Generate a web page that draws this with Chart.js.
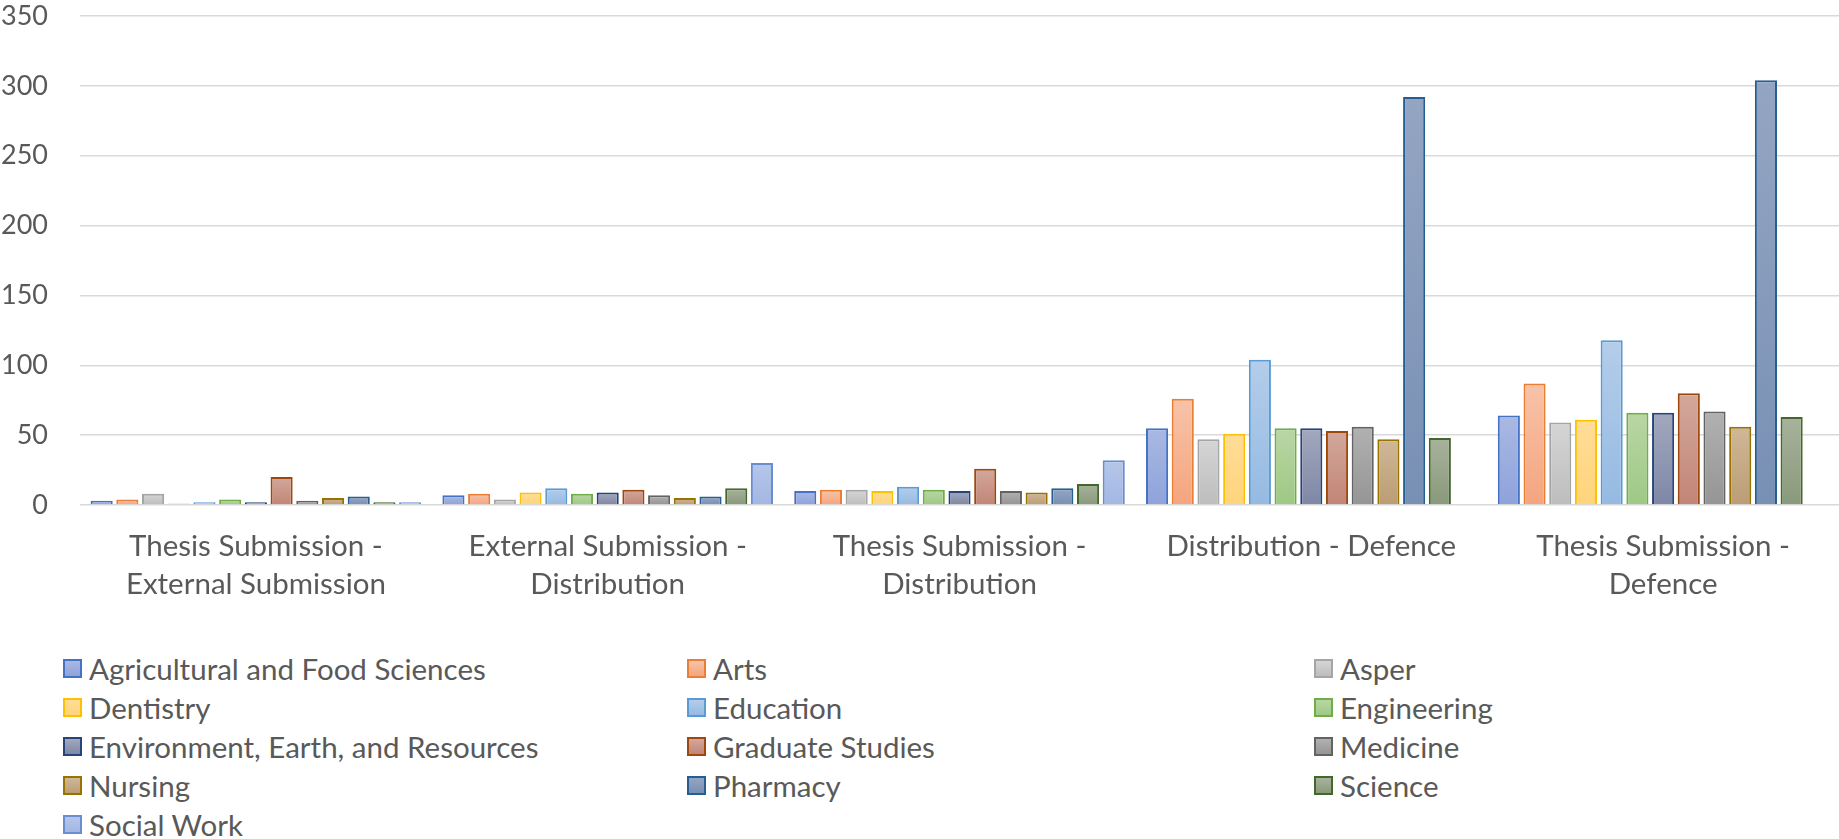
<!DOCTYPE html>
<html>
<head>
<meta charset="utf-8">
<script src="https://cdn.jsdelivr.net/npm/chart.js@4.4.0/dist/chart.umd.min.js"></script>
<style>
  html, body { margin: 0; padding: 0; background: #fff; }
  body { width: 1839px; height: 839px; position: relative; overflow: hidden; font-family: Lato, "Open Sans", sans-serif; }
  #chartBox { position: absolute; left: 0; top: 0; width: 1839px; height: 604px; }
  #legend { position: absolute; left: 63px; top: 649px; display: grid; grid-template-columns: 624px 627px 500px; }
  .item { display: flex; align-items: center; height: 39px; font-size: 29.5px; color: #595959; white-space: nowrap; }
  .swatch { width: 15px; height: 15px; border: 2px solid; margin-right: 7px; box-sizing: content-box; }
</style>
</head>
<body>
<div id="chartBox"><canvas id="chart"></canvas></div>
<div id="legend"></div>
<script>
// --- DANE ---
const categories = [
  ['Thesis Submission -', 'External Submission'],
  ['External Submission -', 'Distribution'],
  ['Thesis Submission -', 'Distribution'],
  ['Distribution - Defence'],
  ['Thesis Submission -', 'Defence']
];
const seriesNames = [
  'Agricultural and Food Sciences', 'Arts', 'Asper', 'Dentistry', 'Education', 'Engineering',
  'Environment, Earth, and Resources', 'Graduate Studies', 'Medicine', 'Nursing', 'Pharmacy',
  'Science', 'Social Work'
];
const agriculture = [3, 7, 10, 55, 64];
const arts        = [4, 8, 11, 76, 87];
const asper       = [8, 4, 11, 47, 59];
const dentistry   = [1, 9, 10, 51, 61];
const education   = [2, 12, 13, 104, 118];
const engineering = [4, 8, 11, 55, 66];
const environment = [2, 9, 10, 55, 66];
const graduate    = [20, 11, 26, 53, 80];
const medicine    = [3, 7, 10, 56, 67];
const nursing     = [5, 5, 9, 47, 56];
const pharmacy    = [6, 6, 12, 292, 304];
const science     = [2, 12, 15, 48, 63];
const socialWork  = [2, 30, 32, null, null];
const seriesValues = [agriculture, arts, asper, dentistry, education, engineering,
  environment, graduate, medicine, nursing, pharmacy, science, socialWork];
const yTicks = [0, 50, 100, 150, 200, 250, 300, 350];

// kolory: obramowanie, gradient góra, gradient dół
const borderColors = ['#4472C4', '#ED7D31', '#A5A5A5', '#FFC000', '#5B9BD5', '#70AD47',
  '#264478', '#9E480E', '#636363', '#997300', '#255E91', '#43682B', '#698ED0'];
const topColors = ['#AAB8E2', '#F7C3A9', '#D5D5D5', '#FFDD99', '#B4CDEA', '#B8D6A5',
  '#A2A8BD', '#D2A89C', '#B1B1B1', '#CFB798', '#94A5C2', '#A8B29D', '#B6C6EA'];
const bottomColors = ['#8EA3DB', '#F4A57E', '#BDBDBD', '#FFD47A', '#95BAE2', '#9EC984',
  '#7E87A6', '#C28576', '#959595', '#BA9D73', '#7890B5', '#89997A', '#A3B7E3'];

const FAMILY = 'Lato, "Open Sans", sans-serif';
const TEXT_COLOR = '#595959';

// gradient dla każdego słupka osobno
const barFill = (top, bottom) => (ctx) => {
  const chart = ctx.chart;
  if (!chart.chartArea || ctx.raw == null) return bottom;
  const y = chart.scales.y;
  const yTop = y.getPixelForValue(ctx.raw);
  const yBase = y.getPixelForValue(0);
  if (!isFinite(yTop) || yBase - yTop < 1) return bottom;
  const g = chart.ctx.createLinearGradient(0, yTop, 0, yBase);
  g.addColorStop(0, top);
  g.addColorStop(1, bottom);
  return g;
};

const datasets = seriesNames.map((name, i) => ({
  label: name,
  data: seriesValues[i],
  backgroundColor: barFill(topColors[i], bottomColors[i]),
  borderColor: borderColors[i],
  borderWidth: 2,
  barPercentage: 0.86,
  categoryPercentage: 0.95
}));

new Chart(document.getElementById('chart').getContext('2d'), {
  type: 'bar',
  data: { labels: categories, datasets: datasets },
  options: {
    responsive: true,
    maintainAspectRatio: false,
    animation: false,
    layout: { padding: { left: 1, right: 0, top: 0, bottom: 0 } },
    plugins: { legend: { display: false }, tooltip: { enabled: false } },
    scales: {
      x: {
        grid: { display: false, drawTicks: false },
        border: { display: false },
        ticks: { color: TEXT_COLOR, font: { family: FAMILY, size: 29.5, lineHeight: 1.31 }, padding: 22, maxRotation: 0, autoSkip: false },
        afterFit: (axis) => { axis.height = 99; axis.paddingLeft = 0; axis.paddingRight = 0; axis.paddingTop = 0; axis.paddingBottom = 0; }
      },
      y: {
        min: 0,
        max: 350,
        afterBuildTicks: (axis) => { axis.ticks = yTicks.map(v => ({ value: v })); },
        grid: { color: '#D9D9D9', lineWidth: 1.5, drawTicks: false },
        border: { display: false },
        ticks: { color: TEXT_COLOR, font: { family: FAMILY, size: 27 }, padding: 32 },
        afterFit: (axis) => { axis.width = 79; axis.paddingTop = 16; axis.paddingBottom = 0; }
      }
    }
  }
});

// --- LEGENDA (siatka 3 kolumny) ---
const legendEl = document.getElementById('legend');
seriesNames.forEach((name, i) => {
  const item = document.createElement('div');
  item.className = 'item';
  const sw = document.createElement('span');
  sw.className = 'swatch';
  sw.style.borderColor = borderColors[i];
  sw.style.background = `linear-gradient(${topColors[i]}, ${bottomColors[i]})`;
  item.appendChild(sw);
  item.appendChild(document.createTextNode(name));
  legendEl.appendChild(item);
});
</script>
</body>
</html>
